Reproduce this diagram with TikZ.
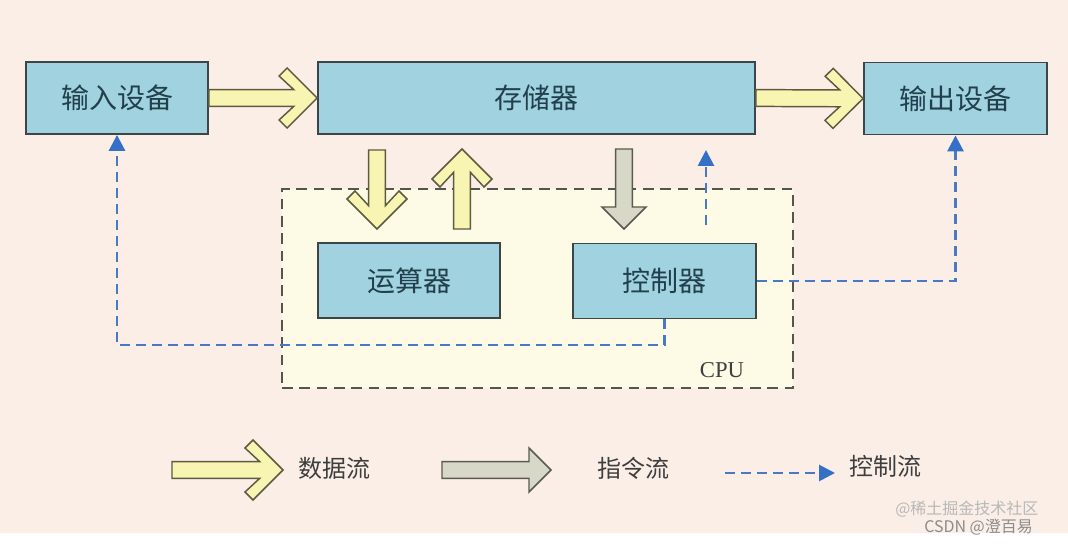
\documentclass[tikz,border=0pt]{standalone}
\usepackage{fontspec}
\setmainfont{Liberation Serif}
\newfontfamily\cjk{Noto Sans CJK SC}
\usetikzlibrary{arrows.meta,calc}
\definecolor{bgc}{HTML}{FAEEE6}
\definecolor{cpufill}{HTML}{FDFAE6}
\definecolor{boxfill}{HTML}{A0D2DF}
\definecolor{boxline}{HTML}{3C4648}
\definecolor{boxtext}{HTML}{22404C}
\definecolor{yfill}{HTML}{F8F5B2}
\definecolor{yline}{HTML}{5C5A40}
\definecolor{gfill}{HTML}{D8D8C8}
\definecolor{gline}{HTML}{5A5A50}
\definecolor{ctlblue}{HTML}{4A78C2}
\definecolor{tipblue}{HTML}{3470C8}
\definecolor{legtext}{HTML}{3E3E3E}
\definecolor{cpuline}{HTML}{555550}
\newcommand\getvec[2]{%
  \path let \p1=($(#2)-(#1)$) in \pgfextra{%
    \pgfmathsetmacro\falen{veclen(\x1,\y1)}%
    \pgfmathsetmacro\faang{atan2(\y1,\x1)}%
    \global\let\falen\falen \global\let\faang\faang};}
\newcommand\dataarrow[2]{\getvec{#1}{#2}%
  \begin{scope}[shift={(#1)},rotate=\faang]
  \draw[dataarr] ({\falen pt},0pt) -- ({\falen pt-22.5pt},22.5pt) -- ({\falen pt-28.5pt},16.5pt)
    -- ({\falen pt-17.5pt},6.3pt) -- (0pt,6.3pt) -- (0pt,-6.3pt) -- ({\falen pt-17.5pt},-6.3pt)
    -- ({\falen pt-28.5pt},-16.5pt) -- ({\falen pt-22.5pt},-22.5pt) -- cycle;
  \end{scope}}
\newcommand\instrarrow[2]{\getvec{#1}{#2}%
  \begin{scope}[shift={(#1)},rotate=\faang]
  \draw[instrarr] ({\falen pt},0pt) -- ({\falen pt-16.5pt},16.5pt) -- ({\falen pt-16.5pt},6.3pt)
    -- (0pt,6.3pt) -- (0pt,-6.3pt) -- ({\falen pt-16.5pt},-6.3pt) -- ({\falen pt-16.5pt},-16.5pt) -- cycle;
  \end{scope}}
\begin{document}
\begin{tikzpicture}[x=0.75pt,y=-0.75pt,
  unit/.style={draw=boxline, line width=1.4pt, fill=boxfill, text=boxtext, inner sep=0pt,
    font=\cjk\fontsize{21}{24}\selectfont},
  cpubox/.style={draw=cpuline, fill=cpufill, line width=1.3pt, dash pattern=on 8pt off 5pt, inner sep=0pt},
  dataarr/.style={draw=yline, fill=yfill, line width=1.1pt, line join=miter},
  instrarr/.style={draw=gline, fill=gfill, line width=1.1pt, line join=miter},
  ctl/.style={draw=ctlblue, line width=2.1pt, dash pattern=on 7.5pt off 4.5pt,
    -{Triangle[width=12pt,length=12pt,fill=tipblue,color=tipblue]}},
  legend/.style={text=legtext, font=\cjk\fontsize{18}{21}\selectfont, anchor=west, inner sep=0pt},
  wm/.style={font=\cjk\fontsize{12}{14}\selectfont, inner sep=0pt}]
\useasboundingbox (0,0) rectangle (1068,545);
\fill[white] (0,0) rectangle (1068,545);
\fill[bgc] (0,0) rectangle (1068,533);
% CPU region
\node[cpubox, minimum width=383.25pt, minimum height=149.25pt] (cpu) at (537.5,288.5) {};
\node[text=legtext, font=\fontsize{17}{20}\selectfont, inner sep=0pt] (cpulabel) at (722,370) {CPU};
% units
\node[unit, minimum width=136.5pt, minimum height=54pt] (in) at (117,98) {输入设备};
\node[unit, minimum width=327.75pt, minimum height=54pt] (mem) at (536.5,98) {存储器};
\node[unit, minimum width=137.25pt, minimum height=54pt] (out) at (955.5,98.5) {输出设备};
\node[unit, minimum width=136.5pt, minimum height=56.25pt] (alu) at (409,280.5) {运算器};
\node[unit, minimum width=137.25pt, minimum height=56.25pt] (ctrl) at (664.5,281) {控制器};
% control flow
\coordinate (cy) at (0,345);
\draw[ctl] (ctrl.south) -- (ctrl.south |- cy) -| (in.south);
\draw[ctl] (ctrl.east) -| (out.south);
\coordinate (c3a) at (706,225);
\coordinate (c3b) at (706,150);
\draw[ctl] (c3a) -- (c3b);
% data flow
\dataarrow{in.east}{mem.west}
\dataarrow{mem.east}{out.west}
\coordinate (d1a) at (377,150);
\coordinate (d1b) at (377,229);
\coordinate (d2a) at (462,229);
\coordinate (d2b) at (462,149);
\dataarrow{d1a}{d1b}
\dataarrow{d2a}{d2b}
% instruction flow
\coordinate (i1a) at (624,149);
\coordinate (i1b) at (624,229);
\instrarrow{i1a}{i1b}
% legend
\coordinate (l1a) at (172,470);
\coordinate (l1b) at (283,470);
\dataarrow{l1a}{l1b}
\node[legend] (t1) at (298,468) {数据流};
\coordinate (l2a) at (442,470);
\coordinate (l2b) at (551,470);
\instrarrow{l2a}{l2b}
\node[legend] (t2) at (597,468) {指令流};
\coordinate (l3a) at (725,473);
\coordinate (l3b) at (835,473);
\draw[ctl] (l3a) -- (l3b);
\node[legend] (t3) at (849,466) {控制流};
% watermarks
\node[wm, text=black!28, anchor=west] (wm1) at (895,509) {@稀土掘金技术社区};
\node[wm, text=black!45, anchor=west] (wm2) at (924,527) {CSDN @澄百易};
\end{tikzpicture}
\end{document}
